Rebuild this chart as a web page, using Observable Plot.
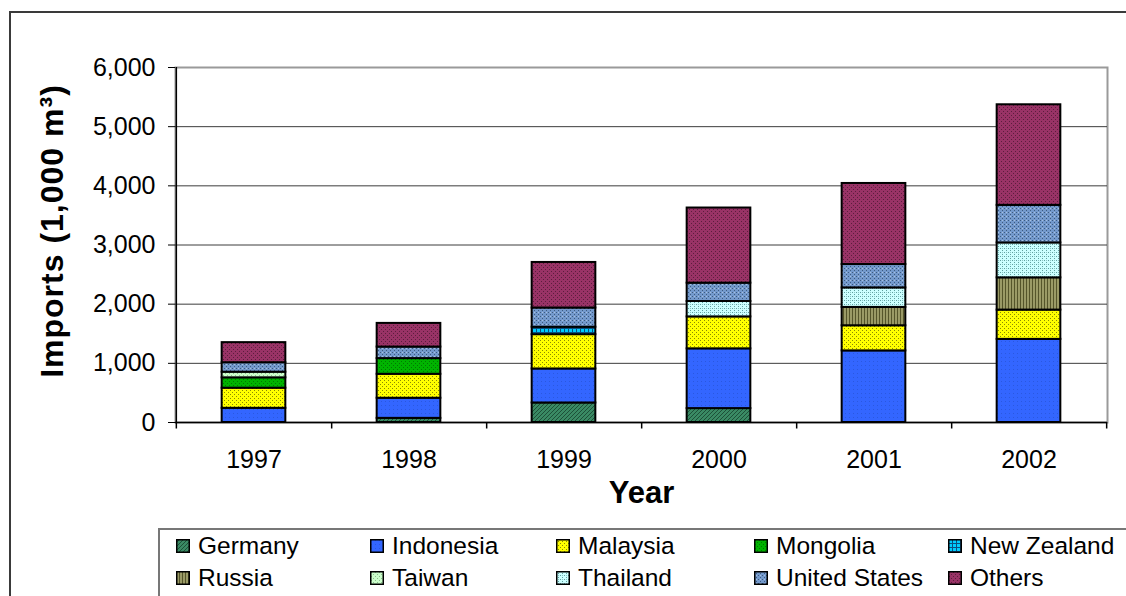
<!DOCTYPE html>
<html>
<head>
<meta charset="utf-8">
<script src="https://cdn.jsdelivr.net/npm/d3@7"></script>
<script src="https://cdn.jsdelivr.net/npm/@observablehq/plot@0.6"></script>
<style>
  html, body { margin: 0; padding: 0; background: #fff; }
  #wrap { position: relative; width: 1126px; height: 596px; overflow: hidden; font-family: "Liberation Sans", Arial, sans-serif; }
  #outer { position: absolute; left: 9px; top: 11px; width: 1300px; height: 800px; border: 2px solid #3a3a3a; box-sizing: border-box; }
  #chart { position: absolute; left: 0; top: 0; }
  #legend { position: absolute; left: 158px; top: 528px; width: 1100px; height: 200px; border: 2px solid #777; box-sizing: border-box; background: #fff; }
  .item { position: absolute; display: flex; align-items: center; font-size: 24.5px; color: #000; white-space: nowrap; }
  .item svg { margin-right: 8px; }
</style>
</head>
<body>
<svg width="0" height="0" style="position:absolute">
  <defs>
    <pattern id="p-Germany" patternUnits="userSpaceOnUse" width="4" height="4">
      <rect width="4" height="4" fill="#3a8a64"/>
      <path d="M0,4 L4,0 M-1,1 L1,-1 M3,5 L5,3" stroke="#1d5038" stroke-width="1"/>
    </pattern>
    <pattern id="p-Indonesia" patternUnits="userSpaceOnUse" width="4" height="4">
      <rect width="4" height="4" fill="#3366ff"/>
      <rect x="1" y="1" width="1" height="1" fill="#2a58e0"/>
    </pattern>
    <pattern id="p-Malaysia" patternUnits="userSpaceOnUse" width="4" height="4">
      <rect width="4" height="4" fill="#ffff00"/>
      <rect x="0" y="0" width="1" height="1" fill="#8a8a00"/>
      <rect x="2" y="2" width="1" height="1" fill="#8a8a00"/>
    </pattern>
    <pattern id="p-Mongolia" patternUnits="userSpaceOnUse" width="4" height="4">
      <rect width="4" height="4" fill="#00b300"/>
      <rect x="1" y="1" width="1" height="1" fill="#007a00"/>
      <rect x="3" y="3" width="1" height="1" fill="#007a00"/>
    </pattern>
    <pattern id="p-NewZealand" patternUnits="userSpaceOnUse" width="4" height="4">
      <rect width="4" height="4" fill="#00ccff"/>
      <rect x="0" y="0" width="1" height="4" fill="#0a4f80"/>
      <rect x="0" y="0" width="4" height="1" fill="#0a4f80"/>
    </pattern>
    <pattern id="p-Russia" patternUnits="userSpaceOnUse" width="3" height="3">
      <rect width="3" height="3" fill="#9a9a66"/>
      <rect x="0" y="0" width="1" height="3" fill="#55552a"/>
    </pattern>
    <pattern id="p-Taiwan" patternUnits="userSpaceOnUse" width="4" height="4">
      <rect width="4" height="4" fill="#ccffcc"/>
      <rect x="1" y="1" width="1" height="1" fill="#8cbf8c"/>
      <rect x="3" y="3" width="1" height="1" fill="#8cbf8c"/>
    </pattern>
    <pattern id="p-Thailand" patternUnits="userSpaceOnUse" width="4" height="4">
      <rect width="4" height="4" fill="#ccffff"/>
      <rect x="0" y="0" width="1" height="1" fill="#5f9f9f"/>
      <rect x="2" y="2" width="1" height="1" fill="#5f9f9f"/>
      <rect x="2" y="0" width="1" height="1" fill="#8cc4c4"/>
    </pattern>
    <pattern id="p-UnitedStates" patternUnits="userSpaceOnUse" width="4" height="4">
      <rect width="4" height="4" fill="#7399cc"/>
      <rect x="0" y="0" width="1" height="1" fill="#3c5a80"/>
      <rect x="2" y="2" width="1" height="1" fill="#3c5a80"/>
      <rect x="2" y="0" width="1" height="1" fill="#a9c0dd"/>
    </pattern>
    <pattern id="p-Others" patternUnits="userSpaceOnUse" width="4" height="4">
      <rect width="4" height="4" fill="#993366"/>
      <rect x="1" y="1" width="1" height="1" fill="#5c1d3d"/>
      <rect x="3" y="3" width="1" height="1" fill="#5c1d3d"/>
    </pattern>
  </defs>
</svg>
<div id="wrap">
  <div id="outer"></div>
  <div id="chart"></div>
  <div id="legend"></div>
</div>
<script>
// ---- data ----
const years = ["1997", "1998", "1999", "2000", "2001", "2002"];
const countries = ["Germany", "Indonesia", "Malaysia", "Mongolia", "New Zealand", "Russia", "Taiwan", "Thailand", "United States", "Others"];
const germany      = [0,   70,  330, 235,  0,    0];
const indonesia    = [240, 340, 575, 1010, 1210, 1405];
const malaysia     = [340, 405, 580, 540,  425,  495];
const mongolia     = [175, 265, 0,   0,    0,    0];
const newZealand   = [0,   0,   125, 0,    0,    0];
const russia       = [0,   0,   0,   0,    310,  545];
const taiwan       = [95,  0,   0,   0,    0,    0];
const thailand     = [0,   0,   0,   260,  330,  590];
const unitedStates = [160, 195, 325, 310,  395,  635];
const others       = [340, 400, 770, 1270, 1370, 1700];
const yTicks = [0, 1000, 2000, 3000, 4000, 5000, 6000];
const yTitle = "Imports (1,000 m³)";
const xTitle = "Year";

const seriesValues = [germany, indonesia, malaysia, mongolia, newZealand, russia, taiwan, thailand, unitedStates, others];
const patternIds = countries.map(c => "url(#p-" + c.replace(/\s+/g, "") + ")");

const rows = [];
countries.forEach((c, ci) => {
  years.forEach((y, yi) => {
    const v = seriesValues[ci][yi];
    if (v > 0) rows.push({year: y, country: c, value: v});
  });
});

// ---- layout ----
const W = 1126, H = 528;
const mL = 175, mR = 19, mT = 67, mB = H - 422;
const step = (W - mL - mR) / years.length;
const barW = 64;
const inset = (step - barW) / 2;
const font = "'Liberation Sans', Arial, Helvetica, sans-serif";

const chart = Plot.plot({
  width: W,
  height: H,
  marginLeft: mL,
  marginRight: mR,
  marginTop: mT,
  marginBottom: mB,
  style: {fontFamily: font, color: "#000", background: "transparent", overflow: "visible"},
  x: {domain: years, padding: 0, axis: null},
  y: {domain: [0, 6000], axis: null},
  color: {domain: countries, range: patternIds},
  marks: [
    Plot.frame({stroke: "#9a9a9a", strokeWidth: 2}),
    Plot.gridY(yTicks.filter(d => d > 0 && d < 6000), {stroke: "#3c3c3c", strokeOpacity: 1, strokeWidth: 1}),
    Plot.barY(rows, {
      x: "year", y: "value", fill: "country",
      order: countries,
      insetLeft: inset, insetRight: inset,
      stroke: "#000", strokeWidth: 2
    }),
    Plot.ruleY([0], {stroke: "#000", strokeWidth: 1.5}),
    Plot.ruleX([years[0]], {dx: -step / 2, stroke: "#000", strokeWidth: 1.5}),
    Plot.ruleX(years, {x: d => d, dx: step / 2, y1: 0, y2: -110, stroke: "#000", strokeWidth: 1.5}),
    Plot.ruleX([years[0]], {x: d => d, dx: -step / 2, y1: 0, y2: -110, stroke: "#000", strokeWidth: 1.5}),
    Plot.axisY({ticks: yTicks, tickFormat: d3.format(","), tickSize: 7, tickPadding: 13, fontSize: 25, label: null, stroke: "#000"}),
    Plot.axisX({tickSize: 0, tickPadding: 28, fontSize: 25, label: null}),
    Plot.text([yTitle], {text: d => d, frameAnchor: "left", textAnchor: "middle", dx: -123, dy: -14, rotate: -90, fontSize: 32, fontWeight: "bold", style: "letter-spacing: 1px"}),
    Plot.text([xTitle], {text: d => d, frameAnchor: "bottom", dy: 80, fontSize: 31, fontWeight: "bold"})
  ]
});
document.getElementById("chart").appendChild(chart);
chart.querySelectorAll("text").forEach(t => {
  if (t.textContent === yTitle) t.style.letterSpacing = "1px";
});

// ---- legend ----
const legend = document.getElementById("legend");
const colX = [16, 210, 396, 594, 788];
const rowY = [2, 34];
countries.forEach((c, i) => {
  const item = document.createElement("div");
  item.className = "item";
  item.style.left = colX[i % 5] + "px";
  item.style.top = rowY[Math.floor(i / 5)] + "px";
  item.innerHTML = `<svg width="14" height="14"><rect x="0.75" y="0.75" width="12.5" height="12.5" fill="${patternIds[i]}" stroke="#000" stroke-width="1.5"/></svg><span>${c}</span>`;
  legend.appendChild(item);
});
</script>
</body>
</html>
